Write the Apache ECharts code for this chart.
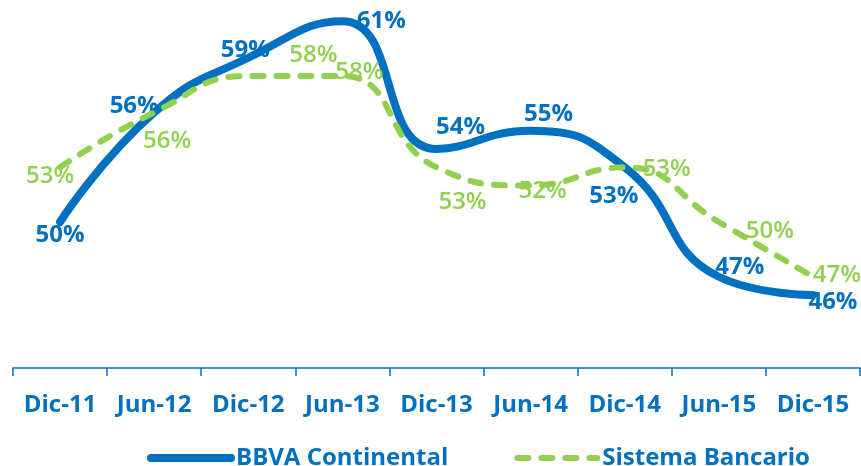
<!DOCTYPE html>
<html>
  <head>
    <meta charset="utf-8" />
    <title>ECharts</title>
    <script src="https://cdn.jsdelivr.net/npm/echarts@6/dist/echarts.min.js"></script>
  </head>
  <body style="margin:0">
    <div id="main" style="width: 861px;height:466px;"></div>
    <script type="text/javascript">
// data
const periodos = ['Dic-11', 'Jun-12', 'Dic-12', 'Jun-13', 'Dic-13', 'Jun-14', 'Dic-14', 'Jun-15', 'Dic-15'];
const bbva = [50, 56, 59, 61, 54, 55, 53, 47, 46];
const sistema = [53, 56, 58, 58, 53, 52, 53, 50, 47];

// where each label sits relative to its point (px)
const bbvaLabelOffset = [[0, 13], [-20, -6], [-3, -8], [39, 0], [24, -22], [18, -17], [-11, 29], [21, -10], [20, 7]];
const sistemaLabelOffset = [[-10, 9], [13, 29], [65, -21], [17, -4], [26, 35], [12, 6], [42, 2], [51, 9], [24, -2]];

const AZUL = '#0070C0';
const VERDE = '#92D050';
const FUENTE = 'Open Sans';

function withLabels(values, offsets) {
  return values.map(function (v, i) {
    return {
      value: v,
      label: { offset: offsets[i] }
    };
  });
}

var chartDom = document.getElementById('main');
var myChart = echarts.init(chartDom);
var option;

option = {
  animation: false,
  grid: { left: 13, right: 1, top: 3, bottom: 98 },
  legend: {
    left: 142,
    top: 441,
    itemWidth: 80,
    itemHeight: 8,
    itemGap: 66,
    itemStyle: { opacity: 0 },
    lineStyle: { width: 'inherit' },
    textStyle: { color: AZUL, fontFamily: FUENTE, fontWeight: 'bold', fontSize: 24 },
    data: ['BBVA Continental', 'Sistema Bancario']
  },
  xAxis: {
    type: 'category',
    data: periodos,
    boundaryGap: true,
    axisLine: { lineStyle: { color: AZUL, width: 1.5 } },
    axisTick: { show: true, length: 8, lineStyle: { color: AZUL, width: 1.5 } },
    axisLabel: {
      color: AZUL,
      fontFamily: FUENTE,
      fontWeight: 'bold',
      fontSize: 24,
      margin: 25,
      interval: 0
    }
  },
  yAxis: {
    type: 'value',
    min: 42,
    max: 62,
    show: false,
    splitLine: { show: false }
  },
  series: [
    {
      name: 'BBVA Continental',
      type: 'line',
      smooth: 0.5,
      symbol: 'circle',
      symbolSize: 1,
      data: withLabels(bbva, bbvaLabelOffset),
      lineStyle: { color: AZUL, width: 8, cap: 'round' },
      itemStyle: { color: 'rgba(0,0,0,0)' },
      z: 3,
      label: {
        show: true,
        position: 'inside',
        formatter: '{c}%',
        color: AZUL,
        fontFamily: FUENTE,
        fontWeight: 'bold',
        fontSize: 24
      }
    },
    {
      name: 'Sistema Bancario',
      type: 'line',
      smooth: 0.5,
      symbol: 'circle',
      symbolSize: 1,
      data: withLabels(sistema, sistemaLabelOffset),
      lineStyle: { color: VERDE, width: 6, type: [11, 13], cap: 'round' },
      itemStyle: { color: 'rgba(0,0,0,0)' },
      z: 4,
      label: {
        show: true,
        position: 'inside',
        formatter: '{c}%',
        color: VERDE,
        fontFamily: FUENTE,
        fontWeight: 600,
        fontSize: 24
      }
    }
  ]
};

option && myChart.setOption(option);
    </script>
  </body>
</html>
